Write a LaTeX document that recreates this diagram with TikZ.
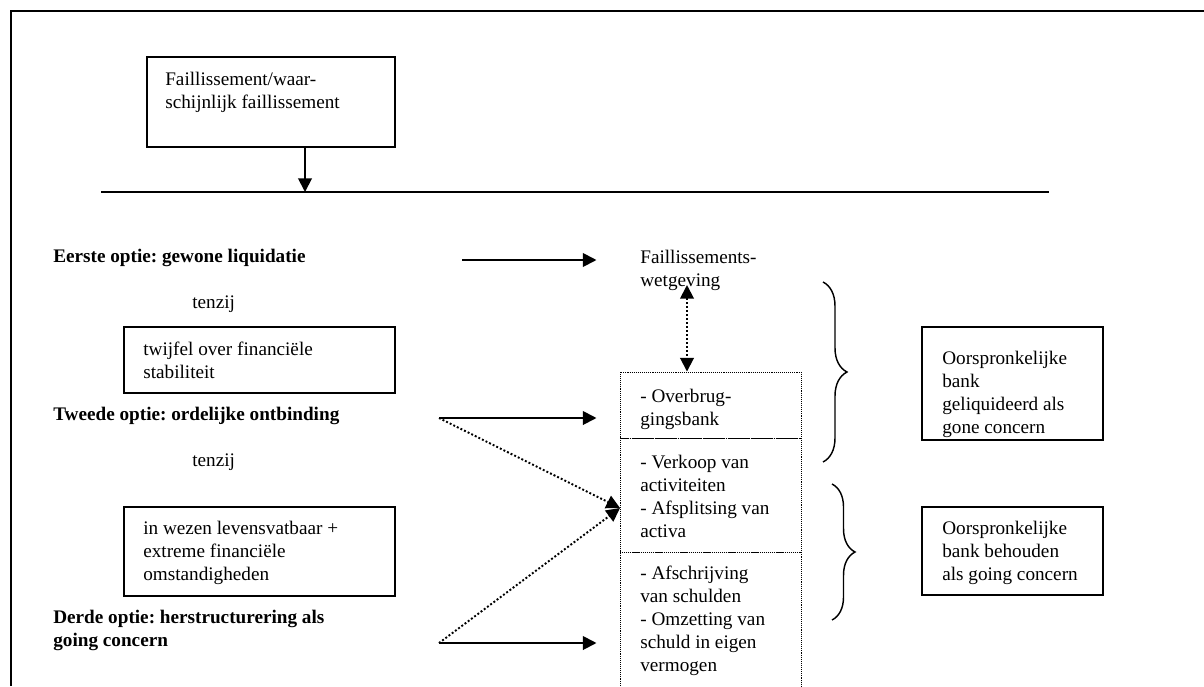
\documentclass[tikz,border=0pt]{standalone}
\usepackage{fontspec}
\setmainfont{Liberation Serif}
\usetikzlibrary{arrows.meta,fit,decorations.pathreplacing}
\frenchspacing

\begin{document}
\begin{tikzpicture}[x=0.625pt, y=-0.625pt, >={Triangle[length=8.5pt,width=8.5pt]},
    font=\fontsize{12}{14.4}\selectfont]
  \tikzset{
  txt/.style={
    anchor=west,
    align=left,
    inner sep=0pt
  },
  option/.style={
    txt,
    font=\fontsize{12}{14.4}\selectfont\bfseries
  },
  box/.style={
    draw,
    line width=0.9pt,
    inner sep=0pt
  },
  tool/.style={
    draw,
    line width=0.6pt,
    dash pattern=on 0.6pt off 0.6pt,
    inner sep=0pt
  },
  solidarrow/.style={->, line width=1.2pt},
  dotarrow/.style={->, line width=1.2pt, dash pattern=on 1.2pt off 1.3pt},
  curly/.style={decorate, decoration={brace, amplitude=#1, aspect=0.5}, line width=0.9pt}
}
\useasboundingbox (0,0) rectangle (1204,686);

% frame
\draw[line width=1.2pt] (11,686) -- (11,11) -- (1204,11);

% top
\node[box, fit={(147,57) (395,147)}] (bankrupt) {};
\node[txt] (bankrupt-txt) at (165,92.5) {Faillissement/waar-\\schijnlijk faillissement};
\draw[line width=1.2pt] (101,192) -- (1049,192);
\coordinate (drop) at (305,192);
\draw[solidarrow] (drop |- bankrupt.south) -- (drop);

% options on the left
\node[option] (opt1) at (53,258) {Eerste optie: gewone liquidatie};
\node[txt] (unless1) at (192,304) {tenzij};
\node[box, fit={(124,327) (395,393)}] (doubt) {};
\node[txt] (doubt-txt) at (143,360.5) {twijfel over financiële\\stabiliteit};
\node[option] (opt2) at (53,416) {Tweede optie: ordelijke ontbinding};
\node[txt] (unless2) at (192,462) {tenzij};
\node[box, fit={(124,507) (395,596)}] (viable) {};
\node[txt] (viable-txt) at (143,553) {in wezen levensvatbaar +\\extreme financiële\\omstandigheden};
\node[option] (opt3) at (53,630) {Derde optie: herstructurering als\\going concern};

% tools in the middle
\node[txt] (law) at (640,270) {Faillissements-\\wetgeving};
\node[tool, fit={(620,372) (801,438)}] (bridge) {};
\node[txt] (bridge-txt) at (640,409.5) {- Overbrug-\\gingsbank};
\node[tool, fit={(620,438) (801,552)}] (sale) {};
\node[txt] (sale-txt) at (640,496.5) {- Verkoop van\\activiteiten\\- Afsplitsing van\\activa};
\node[tool, fit={(620,552) (801,700)}] (bailin) {};
\node[txt] (bailin-txt) at (640,620.5) {- Afschrijving\\van schulden\\- Omzetting van\\schuld in eigen\\vermogen};

% outcomes on the right
\node[box, fit={(922,327) (1103,440)}] (gone) {};
\node[txt] (gone-txt) at (942,394.5) {Oorspronkelijke\\bank\\geliquideerd als\\gone concern};
\node[box, fit={(922,507) (1103,595)}] (going) {};
\node[txt] (going-txt) at (942,553) {Oorspronkelijke\\bank behouden\\als going concern};

\draw[curly=15pt] (823,282) -- (823,462);
\draw[curly=14.4pt] (832,484) -- (832,620);

% arrows
\coordinate (opt1-out) at (462,260);
\coordinate (opt2-out) at (439,418);
\coordinate (opt3-out) at (439,643);
\coordinate (merge) at (620,508);
\coordinate (link) at (687,285);

\draw[solidarrow, shorten >=14.4pt] (opt1-out) -- (opt1-out -| bridge.west);
\draw[solidarrow, shorten >=14.4pt] (opt2-out) -- (opt2-out -| bridge.west);
\draw[solidarrow, shorten >=14.4pt] (opt3-out) -- (opt3-out -| bailin.west);
\draw[dotarrow] (opt2-out) -- (merge);
\draw[dotarrow] (opt3-out) -- (merge);
\draw[dotarrow, <->] (link) -- (link |- bridge.north);
\end{tikzpicture}
\end{document}
